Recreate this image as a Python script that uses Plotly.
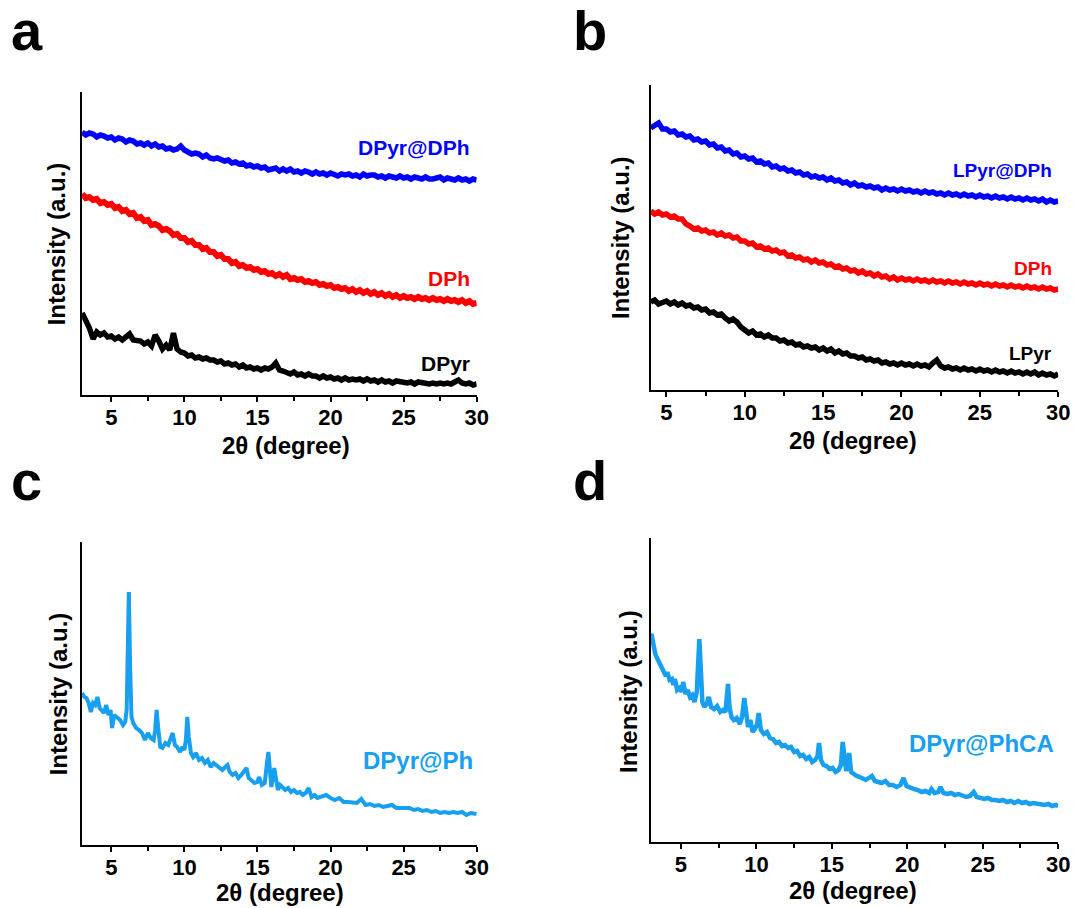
import plotly.graph_objects as go

# ---------------- data (2θ in degrees, intensity in a.u.) ----------------
# panel a / b sampling grids (0.25° steps)
two_theta_a = [3 + 0.25 * i for i in range(109)]
two_theta_b = [4 + 0.25 * i for i in range(105)]

a_dpyr_dph = [263, 260, 262, 261, 258, 260, 259, 257,
              258, 255, 257, 256, 253, 255, 254, 251,
              252, 250, 252, 249, 251, 248, 249, 246,
              247, 245, 246, 249, 245, 243, 241, 242,
              241, 238, 240, 237, 236, 237, 235, 234,
              235, 232, 233, 231, 232, 229, 230, 228,
              229, 227, 228, 225, 226, 227, 224, 226,
              224, 226, 223, 224, 222, 224, 223, 221,
              223, 221, 222, 220, 222, 221, 219, 221,
              220, 221, 219, 220, 218, 221, 219, 220,
              220, 218, 219, 217, 219, 218, 217, 219,
              217, 218, 216, 218, 217, 216, 218, 216,
              216, 217, 218, 215, 217, 216, 215, 217,
              215, 216, 214, 216, 215]
a_dph = [201, 197, 198, 195, 196, 192, 193, 190,
         191, 187, 188, 184, 185, 181, 182, 177,
         178, 174, 175, 170, 171, 169, 165, 166,
         164, 160, 161, 157, 157, 153, 154, 150,
         150, 146, 147, 143, 143, 139, 140, 136,
         136, 132, 133, 129, 130, 127, 128, 125,
         126, 123, 124, 121, 122, 119, 121, 118,
         120, 116, 117, 115, 116, 113, 114, 112,
         113, 110, 111, 109, 110, 107, 108, 106,
         107, 104, 106, 103, 105, 102, 104, 101,
         103, 100, 102, 99, 101, 98, 100, 97,
         99, 97, 98, 96, 98, 96, 97, 95,
         97, 95, 96, 94, 96, 94, 95, 93,
         95, 92, 94, 91, 92]
a_dpyr = [82, 75, 67, 56, 63, 60, 62, 58,
          59, 56, 58, 55, 59, 61, 55, 54,
          54, 51, 53, 49, 60, 54, 46, 50,
          45, 62, 46, 43, 42, 39, 40, 37,
          38, 36, 37, 35, 35, 33, 34, 31,
          32, 30, 31, 28, 30, 27, 28, 26,
          27, 25, 27, 26, 28, 32, 25, 24,
          23, 21, 23, 20, 21, 19, 21, 19,
          19, 17, 19, 17, 18, 16, 17, 15,
          17, 15, 16, 15, 16, 14, 16, 14,
          15, 13, 15, 13, 14, 12, 14, 13,
          13, 12, 13, 11, 13, 12, 12, 11,
          12, 11, 12, 11, 12, 11, 13, 15,
          12, 11, 12, 10, 11]

b_lpyr_dph = [262, 265, 267, 261, 261, 258, 259, 255,
              256, 253, 254, 250, 251, 248, 249, 245,
              246, 242, 243, 239, 240, 236, 237, 233,
              234, 231, 232, 228, 229, 226, 227, 223,
              224, 221, 222, 219, 220, 217, 218, 215,
              216, 213, 214, 212, 213, 210, 212, 209,
              210, 207, 208, 205, 207, 204, 205, 203,
              204, 202, 203, 200, 202, 200, 201, 199,
              201, 199, 200, 198, 199, 197, 199, 197,
              198, 196, 197, 195, 197, 195, 196, 194,
              196, 194, 195, 193, 195, 193, 194, 192,
              194, 192, 193, 191, 193, 191, 192, 190,
              192, 190, 191, 189, 191, 188, 190, 188,
              189]
b_dph = [179, 176, 178, 175, 176, 173, 174, 171,
         171, 166, 164, 161, 162, 159, 160, 157,
         158, 155, 157, 154, 155, 152, 153, 149,
         149, 146, 147, 143, 144, 141, 142, 139,
         140, 137, 138, 134, 135, 132, 133, 130,
         131, 128, 130, 127, 128, 125, 126, 123,
         124, 121, 122, 119, 120, 117, 119, 116,
         117, 114, 116, 113, 114, 111, 113, 110,
         112, 110, 111, 109, 111, 109, 110, 108,
         110, 108, 109, 107, 109, 107, 108, 106,
         108, 106, 107, 105, 107, 105, 106, 104,
         106, 104, 105, 103, 105, 103, 104, 102,
         104, 102, 103, 101, 103, 101, 102, 100,
         101]
b_lpyr = [88, 90, 86, 88, 89, 86, 88, 85,
          87, 84, 85, 82, 83, 80, 81, 77,
          78, 75, 76, 72, 69, 71, 68, 63,
          60, 57, 59, 55, 56, 53, 55, 52,
          52, 49, 50, 47, 48, 45, 46, 43,
          44, 42, 43, 40, 42, 39, 41, 37,
          39, 36, 37, 34, 34, 32, 33, 30,
          31, 29, 30, 27, 28, 26, 27, 25,
          27, 25, 26, 24, 26, 24, 25, 23,
          27, 30, 24, 22, 23, 21, 22, 20,
          22, 20, 21, 19, 21, 19, 20, 18,
          20, 18, 19, 17, 19, 17, 18, 16,
          18, 16, 18, 15, 17, 15, 16, 14,
          16]

c_two_theta = [3.0, 3.15, 3.3, 3.45, 3.6, 3.75, 3.9, 4.05, 4.2, 4.35, 4.5, 4.65, 4.8, 4.95, 5.05,
               5.2, 5.4, 5.6, 5.8, 5.95, 6.05, 6.12, 6.2, 6.28, 6.38, 6.5, 6.7, 6.9, 7.1, 7.3,
               7.5, 7.7, 7.9, 8.0, 8.1, 8.2, 8.35, 8.5, 8.7, 8.9, 9.05, 9.2, 9.35, 9.5, 9.7,
               9.85, 10.0, 10.1, 10.2, 10.3, 10.45, 10.6, 10.8, 11.0, 11.2, 11.4, 11.6, 11.8, 12.0, 12.2,
               12.4, 12.6, 12.8, 12.95, 13.1, 13.3, 13.5, 13.7, 13.9, 14.1, 14.25, 14.4, 14.6, 14.8, 15.0,
               15.1, 15.3, 15.5, 15.65, 15.75, 15.85, 15.95, 16.05, 16.15, 16.25, 16.4, 16.55, 16.7, 16.9, 17.1,
               17.3, 17.5, 17.7, 17.9, 18.1, 18.3, 18.5, 18.7, 18.9, 19.1, 19.4, 19.7, 20.0, 20.3, 20.6,
               20.9, 21.2, 21.5, 21.8, 22.1, 22.4, 22.7, 23.0, 23.3, 23.6, 23.9, 24.2, 24.5, 24.8, 25.1,
               25.4, 25.7, 26.0, 26.3, 26.6, 26.9, 27.2, 27.5, 27.8, 28.1, 28.4, 28.7, 29.0, 29.3, 29.6, 30.0]
c_dpyr_ph = [152, 148, 147, 142, 133, 142, 140, 148, 137, 135, 132, 140, 130, 135, 117,
             130, 127, 125, 120, 123, 135, 175, 253, 182, 128, 122, 117, 115, 112, 105,
             112, 107, 105, 115, 135, 118, 98, 97, 102, 100, 105, 112, 100, 98, 93,
             98, 95, 105, 128, 108, 92, 88, 92, 85, 87, 82, 85, 78, 82, 80,
             77, 75, 78, 80, 73, 70, 72, 67, 70, 75, 77, 67, 65, 62, 63,
             68, 60, 62, 82, 93, 75, 58, 67, 77, 68, 55, 60, 58, 55, 57,
             53, 55, 52, 53, 50, 52, 57, 48, 50, 47, 48, 50, 47, 45, 47,
             43, 43, 42, 42, 46, 40, 41, 39, 40, 38, 39, 40, 37, 37, 36,
             37, 35, 36, 34, 35, 33, 34, 32, 33, 32, 33, 32, 33, 30, 32, 31]

d_two_theta = [3.0, 3.05, 3.15, 3.3, 3.45, 3.6, 3.75, 3.9, 4.0, 4.1, 4.25, 4.4, 4.5, 4.6, 4.75,
               4.9, 5.05, 5.15, 5.3, 5.45, 5.6, 5.75, 5.9, 6.05, 6.13, 6.22, 6.32, 6.42, 6.55, 6.7,
               6.85, 7.0, 7.2, 7.4, 7.6, 7.8, 7.95, 8.05, 8.12, 8.22, 8.35, 8.5, 8.7, 8.9, 9.05,
               9.2, 9.3, 9.45, 9.6, 9.75, 9.9, 10.05, 10.15, 10.3, 10.5, 10.7, 10.9, 11.1, 11.3, 11.5,
               11.7, 11.9, 12.1, 12.3, 12.5, 12.7, 12.9, 13.1, 13.3, 13.5, 13.7, 13.9, 14.05, 14.15, 14.28,
               14.45, 14.65, 14.85, 15.05, 15.25, 15.45, 15.6, 15.72, 15.82, 15.95, 16.05, 16.15, 16.28, 16.45, 16.65,
               16.85, 17.05, 17.25, 17.45, 17.65, 17.85, 18.05, 18.3, 18.55, 18.8, 19.05, 19.3, 19.55, 19.75, 19.95,
               20.2, 20.45, 20.7, 20.95, 21.2, 21.45, 21.6, 21.8, 22.05, 22.2, 22.4, 22.65, 22.9, 23.15, 23.4,
               23.65, 23.9, 24.15, 24.4, 24.6, 24.85, 25.1, 25.35, 25.6, 25.85, 26.1, 26.35, 26.6, 26.85, 27.1,
               27.35, 27.6, 27.85, 28.1, 28.35, 28.6, 28.85, 29.1, 29.35, 29.6, 29.85, 30.0]
d_dpyr_phca = [206, 208, 200, 188, 183, 178, 172, 168, 166, 170, 162, 163, 157, 163, 152,
               154, 150, 160, 148, 152, 145, 147, 140, 150, 180, 203, 172, 140, 135, 138,
               145, 135, 133, 136, 130, 132, 130, 145, 158, 135, 125, 122, 124, 118, 125,
               144, 130, 115, 122, 110, 113, 118, 129, 112, 108, 110, 104, 103, 99, 100,
               96, 97, 94, 95, 90, 91, 86, 87, 83, 85, 80, 82, 86, 99, 82,
               77, 76, 73, 74, 70, 72, 77, 100, 86, 71, 78, 89, 70, 68, 66,
               65, 64, 62, 64, 66, 61, 60, 59, 61, 57, 57, 55, 57, 64, 56,
               54, 53, 52, 50, 51, 49, 53, 49, 50, 55, 49, 48, 49, 47, 48,
               46, 45, 46, 50, 45, 44, 43, 44, 42, 42, 41, 42, 40, 41, 39,
               41, 39, 40, 38, 39, 38, 38, 37, 38, 36, 37, 36]

x_tick_vals = [5, 10, 15, 20, 25, 30]
x_minor_vals = [7.5, 12.5, 17.5, 22.5, 27.5]
x_title = "2θ (degree)"
y_title = "Intensity (a.u.)"

BLUE = "#0000ff"
RED = "#ff0000"
BLACK = "#000000"
SKY = "#189ff0"
FONT = "Liberation Sans, Arial, sans-serif"
W, H = 1088, 908


def px(x):
    return x / W


def py(y):
    return 1 - y / H


fig = go.Figure()

# (axis suffix, x-range, y-range, plot box in pixels: left, top, right, bottom)
panels = {
    "a": ("", [3, 30], [0, 303], (83, 92, 482, 395)),
    "b": ("2", [4, 30], [0, 305], (658, 85, 1070, 390)),
    "c": ("3", [3, 30], [0, 303], (83, 542, 482, 845)),
    "d": ("4", [3, 30], [0, 304], (658, 538, 1070, 842)),
}

series = [
    ("a", two_theta_a, a_dpyr_dph, BLUE, 5.5),
    ("a", two_theta_a, a_dph, RED, 6),
    ("a", two_theta_a, a_dpyr, BLACK, 5.5),
    ("b", two_theta_b, b_lpyr_dph, BLUE, 5.5),
    ("b", two_theta_b, b_dph, RED, 5.5),
    ("b", two_theta_b, b_lpyr, BLACK, 5.5),
    ("c", c_two_theta, c_dpyr_ph, SKY, 4),
    ("d", d_two_theta, d_dpyr_phca, SKY, 4.5),
]
for p, xs, ys, col, lw in series:
    suf = panels[p][0]
    fig.add_trace(go.Scatter(x=xs, y=ys, mode="lines", line=dict(color=col, width=lw),
                             xaxis="x" + suf, yaxis="y" + suf, showlegend=False, hoverinfo="skip"))

layout = dict(width=W, height=H, margin=dict(l=0, r=0, t=0, b=0),
              paper_bgcolor="white", plot_bgcolor="white", showlegend=False)
for p, (suf, xr, yr, (l, t, r, b)) in panels.items():
    layout["xaxis" + suf] = dict(
        domain=[px(l), px(r)], range=xr, anchor="y" + suf,
        showline=True, linecolor="black", linewidth=2, showgrid=False, zeroline=False,
        tickmode="array", tickvals=x_tick_vals, ticks="outside", ticklen=5, tickwidth=2,
        tickcolor="black", ticklabelstandoff=-3,
        tickfont=dict(family=FONT, size=22, color="black", weight="bold"),
        minor=dict(tickmode="array", tickvals=x_minor_vals, ticks="outside",
                   ticklen=4, tickwidth=1.5, tickcolor="black", showgrid=False),
    )
    layout["yaxis" + suf] = dict(
        domain=[py(b), py(t)], range=yr, anchor="x" + suf,
        showline=True, linecolor="black", linewidth=2, showgrid=False, zeroline=False,
        showticklabels=False, ticks="",
    )
fig.update_layout(**layout)

ann = []


def text(x, y, s, size, color="black", xanchor="center", angle=0):
    ann.append(dict(x=px(x), y=py(y), xref="paper", yref="paper", text=s, showarrow=False,
                    xanchor=xanchor, yanchor="middle", textangle=angle,
                    font=dict(family=FONT, size=size, color=color, weight="bold")))


# panel letters
text(27, 31, "a", 56)
text(597, 30, "b", 56)
text(27, 481, "c", 56)
text(597, 481, "d", 56)

# axis titles
text(289, 445, x_title, 24)
text(863, 440, x_title, 24)
text(283, 892, x_title, 24)
text(863, 890, x_title, 24)
text(58, 244, y_title, 24, angle=-90)
text(628, 238, y_title, 24, angle=-90)
text(59, 694, y_title, 24, angle=-90)
text(635, 691, y_title, 24, angle=-90)

# curve labels
text(477, 148, "DPyr@DPh", 21, BLUE, "right")
text(477, 278, "DPh", 21, RED, "right")
text(477, 363, "DPyr", 21, BLACK, "right")
text(1066, 170, "LPyr@DPh", 19, BLUE, "right")
text(1066, 268, "DPh", 19, RED, "right")
text(1066, 353, "LPyr", 19, BLACK, "right")
text(480, 760, "DPyr@Ph", 24, SKY, "right")
text(1068, 743, "DPyr@PhCA", 24, SKY, "right")

fig.update_layout(annotations=ann)
fig.write_html(
    "out.html",
    config={"displayModeBar": False},
    post_script="document.body.style.margin='0';document.body.style.overflow='hidden';",
)
